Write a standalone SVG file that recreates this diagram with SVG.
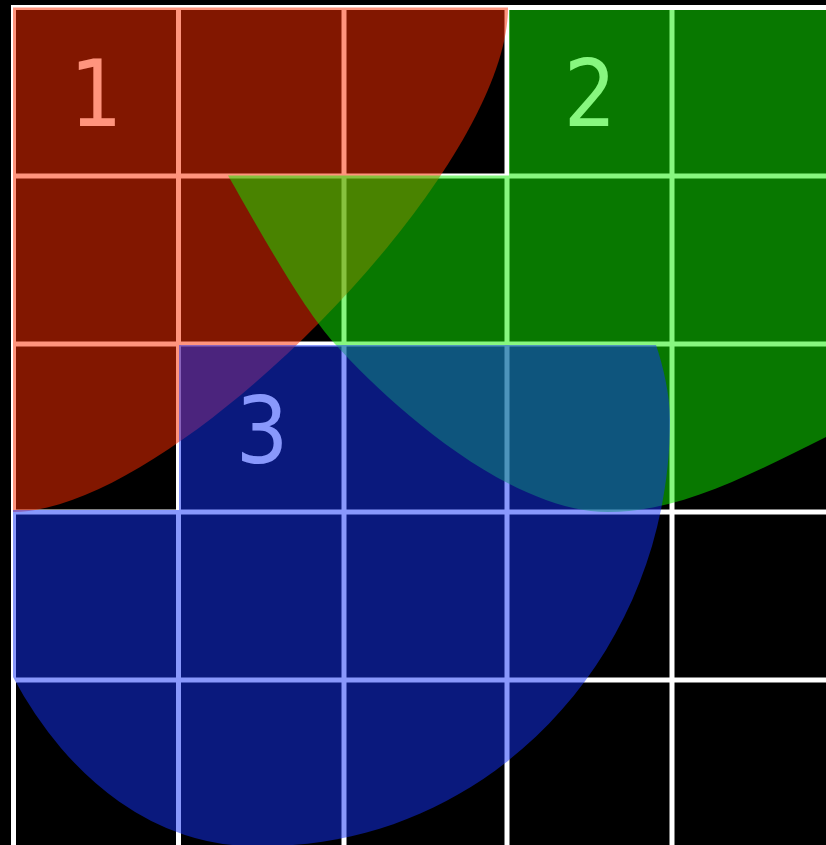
<svg xmlns="http://www.w3.org/2000/svg" width="826" height="845" viewBox="0 0 826 845">
  <style>
    .bg { fill: #000; }
    .grid line { stroke: #fff; stroke-width: 5; }
    .label { fill: #fff; font-family: "DejaVu Sans Condensed", "DejaVu Sans", sans-serif; font-stretch: condensed; font-size: 92px; text-anchor: middle; }
    .red { fill: #ff2e00; fill-opacity: 0.51; }
    .green { fill: #10f000; fill-opacity: 0.5; }
    .blue { fill: #1432fa; fill-opacity: 0.5; }
  </style>
  <rect class="bg" x="0" y="0" width="826" height="845"/>
  <g id="grid" class="grid">
    <line x1="13.5" y1="5" x2="13.5" y2="845"/>
    <line x1="178.5" y1="5" x2="178.5" y2="845"/>
    <line x1="344" y1="5" x2="344" y2="845"/>
    <line x1="507" y1="5" x2="507" y2="845"/>
    <line x1="672" y1="5" x2="672" y2="845"/>
    <line x1="11" y1="7.5" x2="826" y2="7.5"/>
    <line x1="11" y1="176" x2="826" y2="176"/>
    <line x1="11" y1="344" x2="826" y2="344"/>
    <line x1="11" y1="512" x2="826" y2="512"/>
    <line x1="11" y1="680" x2="826" y2="680"/>
  </g>
  <g id="item1">
    <text class="label" x="96" y="126">1</text>
    <path class="red" d="M13,7.5 H508 C508,173 172,512 13,512 Z"/>
  </g>
  <g id="item2">
    <text class="label" x="590" y="126">2</text>
    <path class="green" d="M509,10 H826 V437 C745.5,477.2 678,512 608,512 C508,512 388.6,403.2 335,344 C301.5,307 257.9,227.5 228,175.5 H509 Z"/>
  </g>
  <g id="item3">
    <text class="label" x="262" y="463">3</text>
    <path class="blue" d="M179,345 H656 C663,365 670,395 670,420 C670,655.3 488.7,846 265,846 H253 A301,426 0 0 1 13,677 V510 H179 Z"/>
  </g>
</svg>
